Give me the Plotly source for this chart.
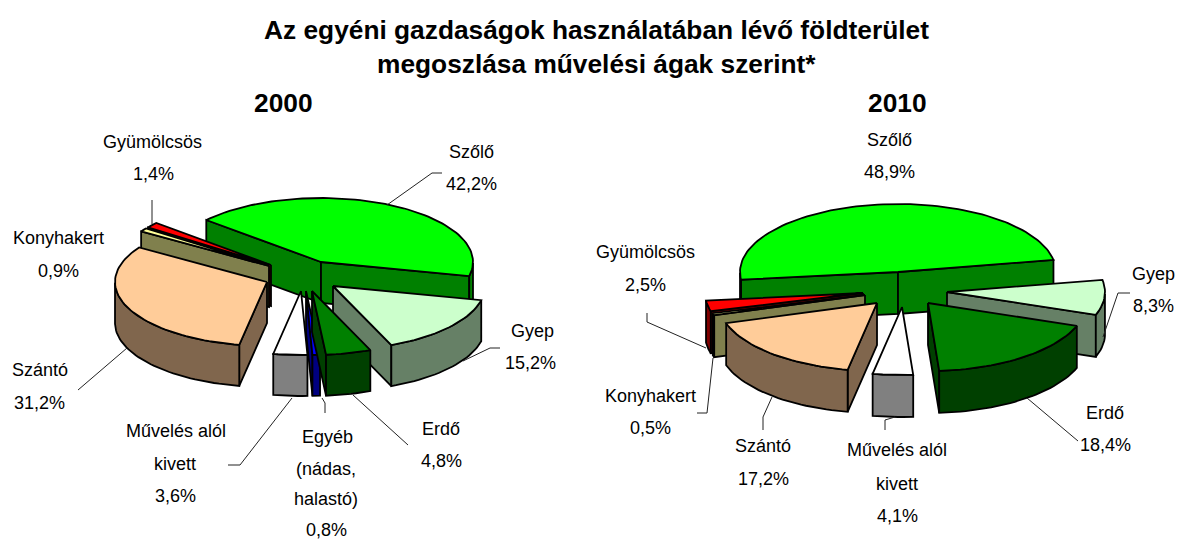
import math
import plotly.graph_objects as go

# ---- data -------------------------------------------------------------
categories_2000 = ["Szőlő", "Gyep", "Erdő", "Egyéb", "Művelés", "Szántó", "Konyhakert", "Gyümölcsös"]
values_2000 = [42.2, 15.2, 4.8, 0.8, 3.6, 31.2, 0.9, 1.4]
categories_2010 = ["Szőlő", "Gyep", "Erdő", "Művelés", "Szántó", "Konyhakert", "Gyümölcsös"]
values_2010 = [48.9, 8.3, 18.4, 4.1, 17.2, 0.5, 2.5]

title_lines = ["Az egyéni gazdaságok használatában lévő földterület",
               "megoszlása művelési ágak szerint*"]

# ---- styling ----------------------------------------------------------
top_colors = {"Szőlő": "#00FF00", "Gyep": "#CCFFCC", "Erdő": "#008000", "Egyéb": "#0000FF",
              "Művelés": "#FFFFFF", "Szántó": "#FFCC99", "Konyhakert": "#FFFF99", "Gyümölcsös": "#FF0000"}
wall_colors = {"Szőlő": "#008000", "Gyep": "#668066", "Erdő": "#004000", "Egyéb": "#000080",
               "Művelés": "#808080", "Szántó": "#80664D", "Konyhakert": "#80804D", "Gyümölcsös": "#800000"}

# exploded position of each wedge's tip (the equivalent of a pie's "pull")
tips_2000 = {"Szőlő": (321, 262), "Gyep": (333, 286), "Erdő": (312, 291), "Egyéb": (306, 291),
             "Művelés": (301, 291), "Szántó": (267, 282), "Konyhakert": (269, 266), "Gyümölcsös": (271, 265)}
tips_2010 = {"Szőlő": (898, 272), "Gyep": (947, 292), "Erdő": (928, 303), "Művelés": (902, 307),
             "Szántó": (877, 303), "Konyhakert": (865, 295), "Gyümölcsös": (863, 293)}
pie_2000 = dict(start=-49, rx=152, ry=64, depth=41, tips=tips_2000,
                order=["Szőlő", "Gyümölcsös", "Konyhakert", "Szántó", "Gyep", "Művelés", "Egyéb", "Erdő"])
pie_2010 = dict(start=-96.5, rx=158, ry=68, depth=42, tips=tips_2010,
                order=["Szőlő", "Gyep", "Gyümölcsös", "Konyhakert", "Szántó", "Erdő", "Művelés"])

labels = [
    ("Gyümölcsös", 152, 142), ("1,4%", 153, 174), ("Szőlő", 471, 152), ("42,2%", 471, 184),
    ("Konyhakert", 58, 238), ("0,9%", 58, 271), ("Gyep", 532, 331), ("15,2%", 530, 363),
    ("Szántó", 40, 370), ("31,2%", 39, 403), ("Művelés alól", 176, 431), ("kivett", 175, 464),
    ("3,6%", 175, 496), ("Egyéb", 327, 437), ("(nádas,", 326, 469), ("halastó)", 326, 499),
    ("0,8%", 326, 530), ("Erdő", 441, 429), ("4,8%", 441, 461),
    ("Szőlő", 889, 140), ("48,9%", 889, 172), ("Gyümölcsös", 645, 252), ("2,5%", 645, 285),
    ("Gyep", 1153, 274), ("8,3%", 1153, 306), ("Konyhakert", 650, 396), ("0,5%", 650, 428),
    ("Szántó", 763, 446), ("17,2%", 763, 479), ("Művelés alól", 897, 450), ("kivett", 897, 484),
    ("4,1%", 897, 516), ("Erdő", 1105, 413), ("18,4%", 1105, 445),
]
leaders = [
    [(152, 200), (152, 224)],
    [(442, 173), (432, 173), (387, 205)],
    [(500, 348), (490, 348), (463, 361)],
    [(78, 390), (127, 348)],
    [(228, 465), (240, 465), (292, 398)],
    [(322, 398), (325, 403), (325, 413)],
    [(353, 395), (408, 445)],
    [(647, 313), (647, 322), (706, 348)],
    [(713, 358), (707, 413), (697, 413)],
    [(772, 397), (763, 417), (763, 430)],
    [(895, 417), (885, 420), (885, 430)],
    [(1027, 398), (1078, 441)],
    [(1130, 293), (1118, 293), (1103, 337)],
]

LINE = 1.8
fig = go.Figure()


def poly(points, color, name):
    xs = [p[0] for p in points] + [points[0][0]]
    ys = [p[1] for p in points] + [points[0][1]]
    fig.add_trace(go.Scatter(x=xs, y=ys, mode="lines", fill="toself", fillcolor=color,
                             line=dict(color="black", width=LINE), name=name,
                             hoverinfo="skip", showlegend=False))


def draw_pie(categories, values, cfg):
    total = sum(values)
    angle = cfg["start"]
    spans = {}
    for c, v in zip(categories, values):
        spans[c] = (angle, angle + 360 * v / total)
        angle += 360 * v / total
    d = cfg["depth"]
    for c in cfg["order"]:
        a1, a2 = spans[c]
        tx, ty = cfg["tips"][c]
        n = max(2, int((a2 - a1) / 2) + 1)
        angs = [a1 + (a2 - a1) * i / n for i in range(n + 1)]
        rim = [(tx + cfg["rx"] * math.sin(math.radians(a)), ty - cfg["ry"] * math.cos(math.radians(a)))
               for a in angs]
        top = [(tx, ty)] + rim
        cxm = sum(p[0] for p in top) / len(top)
        cym = sum(p[1] for p in top) / len(top)
        # radial walls turned towards the viewer
        for end in (rim[0], rim[-1]):
            ex, ey = end[0] - tx, end[1] - ty
            nx, ny = -ey, ex
            if nx * (tx - cxm) + ny * (ty - cym) < 0:
                nx, ny = -nx, -ny
            if ny > 0:
                poly([(tx, ty), end, (end[0], end[1] + d), (tx, ty + d)], wall_colors[c], c)
        # outer wall: part of the rim in the front half of the ellipse
        front = [p for a, p in zip(angs, rim) if math.cos(math.radians(a)) < 0]
        if len(front) >= 2:
            poly(front + [(p[0], p[1] + d) for p in reversed(front)], wall_colors[c], c)
        poly(top, top_colors[c], c)


draw_pie(categories_2000, values_2000, pie_2000)
draw_pie(categories_2010, values_2010, pie_2010)

lx, ly = [], []
for seg in leaders:
    lx += [p[0] for p in seg] + [None]
    ly += [p[1] for p in seg] + [None]
fig.add_trace(go.Scatter(x=lx, y=ly, mode="lines", line=dict(color="#222222", width=1),
                         hoverinfo="skip", showlegend=False))

FONT = "Liberation Sans, Arial, sans-serif"
ann = []
for text, x, y in labels:
    ann.append(dict(x=x, y=y, text=text, showarrow=False, xanchor="center", yanchor="middle",
                    font=dict(family=FONT, size=18, color="black")))
for text, x, y in [(title_lines[0], 596, 30), (title_lines[1], 596, 64), ("2000", 283, 103), ("2010", 897, 103)]:
    ann.append(dict(x=x, y=y, text="<b>%s</b>" % text, showarrow=False, xanchor="center", yanchor="middle",
                    font=dict(family=FONT, size=26.3, color="black")))

fig.update_layout(
    width=1179, height=540, margin=dict(l=0, r=0, t=0, b=0),
    paper_bgcolor="white", plot_bgcolor="white", annotations=ann,
    xaxis=dict(range=[0, 1179], visible=False, fixedrange=True),
    yaxis=dict(range=[540, 0], visible=False, fixedrange=True),
)
fig.write_html("out.html", config=dict(displayModeBar=False),
               post_script="document.body.style.margin='0';document.body.style.overflow='hidden';")
